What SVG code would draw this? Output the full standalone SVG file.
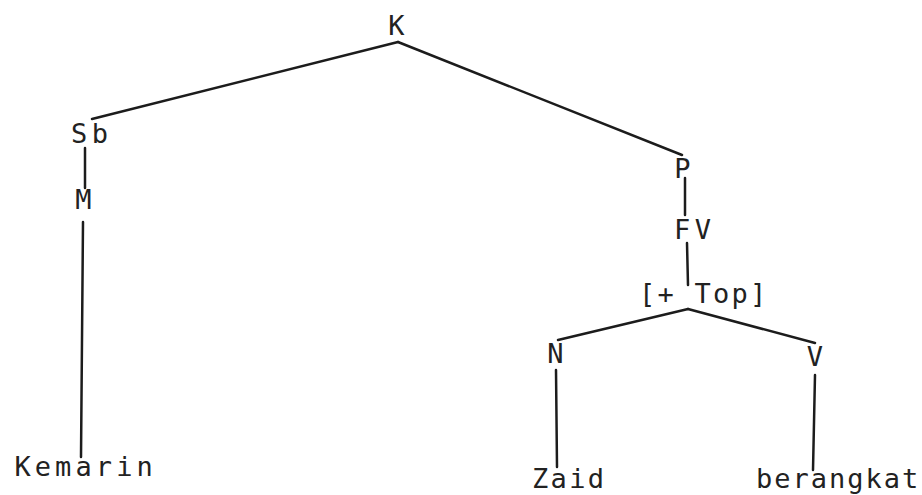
<svg xmlns="http://www.w3.org/2000/svg" width="922" height="495" viewBox="0 0 922 495">
  <style>
    .edge { stroke: #1c1c1c; stroke-width: 2.5; stroke-linecap: round; fill: none; }
    .lbl { font-family: "DejaVu Sans Mono", "Liberation Mono", monospace; font-size: 27px; fill: #222; }
    .mid { text-anchor: middle; }
  </style>
  <rect width="922" height="495" fill="#ffffff"/>

  <!-- tree branches -->
  <g id="connectors">
    <line class="edge" x1="398" y1="42" x2="92" y2="119"/>
    <line class="edge" x1="398" y1="42" x2="682" y2="155"/>
    <line class="edge" x1="85" y1="148" x2="85" y2="188"/>
    <line class="edge" x1="83" y1="222" x2="81" y2="457"/>
    <line class="edge" x1="685" y1="178" x2="685" y2="215"/>
    <line class="edge" x1="687" y1="243" x2="688" y2="285"/>
    <line class="edge" x1="688" y1="309" x2="558" y2="340"/>
    <line class="edge" x1="688" y1="309" x2="815" y2="343"/>
    <line class="edge" x1="556" y1="370" x2="557" y2="467"/>
    <line class="edge" x1="815" y1="375" x2="813" y2="470"/>
  </g>

  <!-- nodes -->
  <g id="node-K"><text class="lbl mid" x="396.5" y="35">K</text></g>
  <g id="node-Sb"><text class="lbl" x="71" y="143" letter-spacing="4.5">Sb</text></g>
  <g id="node-M"><text class="lbl mid" x="83.5" y="209">M</text></g>
  <g id="node-Kemarin"><text class="lbl" x="14.4" y="476" letter-spacing="4.1">Kemarin</text></g>
  <g id="node-P"><text class="lbl mid" x="682.5" y="178">P</text></g>
  <g id="node-FV"><text class="lbl" x="673.9" y="239" letter-spacing="4.5">FV</text></g>
  <g id="node-Top"><text class="lbl" x="638.9" y="303" letter-spacing="2.25" xml:space="preserve">[+ Top]</text></g>
  <g id="node-N"><text class="lbl mid" x="555.5" y="363">N</text></g>
  <g id="node-V"><text class="lbl mid" x="815" y="366">V</text></g>
  <g id="node-Zaid"><text class="lbl" x="531.9" y="488" letter-spacing="2.4">Zaid</text></g>
  <g id="node-berangkat"><text class="lbl" x="755.9" y="488" letter-spacing="2">berangkat</text></g>
</svg>
